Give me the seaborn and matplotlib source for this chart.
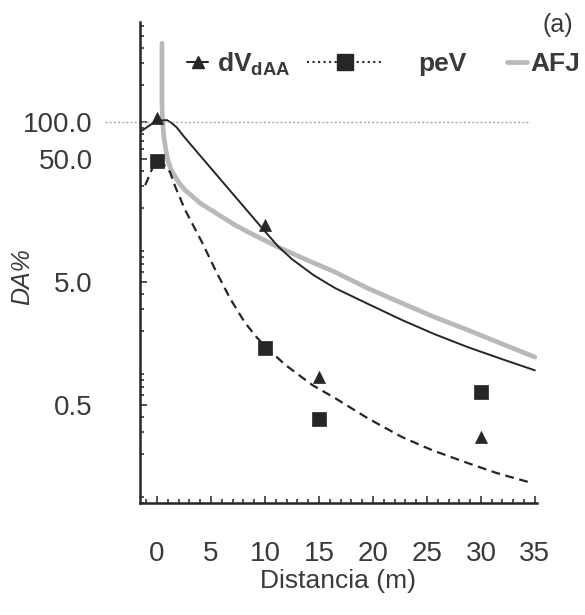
import numpy as np
import matplotlib
matplotlib.use("Agg")
import matplotlib.pyplot as plt
from matplotlib.lines import Line2D
from matplotlib.ticker import FixedLocator, LogLocator, MultipleLocator, NullFormatter, FuncFormatter
import pandas as pd
import seaborn as sns

# puntos medidos
dist_pts = [0, 10, 15, 30]
dv_pts = [108, 14.5, 0.85, 0.275]
pev_pts = [48, 1.45, 0.385, 0.64]

# curva dVdAA (linea continua)
dv_x = [-1.6, -0.4, 0.4, 0.9, 1.3, 1.8, 2.5, 4.0, 5.5, 7.0, 8.5, 10.0, 11.2, 12.5, 14.5, 16.5, 19.5,
        22.7, 25.7, 28.8, 32, 35]
dv_y = [83, 98, 103, 104, 99, 91, 76.1, 53.3, 37.4, 26.2, 18.4, 12.9, 9.8, 7.69, 5.70, 4.47, 3.34,
        2.46, 1.89, 1.48, 1.18, 0.96]

# curva peV (discontinua)
pev_x = [-1.1, -0.4, 0.3, 1.2, 1.7, 2.6, 4.2, 5.5, 6.8, 8.1, 9.2, 10.2, 11.9, 14.4, 16.5, 19.5, 22.7, 25.5, 28.8, 31.5, 34.8]
pev_y = [30.7, 43.0, 49.1, 39.2, 29.6, 19.3, 10.4, 6.03, 3.64, 2.37, 1.79, 1.45, 1.06, 0.727, 0.570,
         0.392, 0.275, 0.215, 0.169, 0.140, 0.116]

# curva AFJ (gris)
afj_x = [0.45, 0.45, 0.5, 0.6, 0.8, 1.0, 1.3, 1.7, 2.1, 2.6, 4.0, 5.6, 7.2, 8.8, 11.2, 13.7, 16.5, 19.5,
         22.7, 25.7, 28.8, 32, 35]
afj_y = [438, 140, 105, 80, 60, 49, 41, 35.7, 31.5, 28.0, 21.9, 17.9, 14.6, 12.3, 9.64, 7.70, 6.03, 4.47,
         3.37, 2.60, 2.04, 1.57, 1.23]

y_ticks = [0.5, 5, 50, 100]

sns.set_style("ticks")
plt.rcParams['font.family'] = ['Liberation Sans', 'DejaVu Sans']
plt.rcParams['mathtext.fontset'] = 'custom'
plt.rcParams['mathtext.rm'] = 'Liberation Sans'
plt.rcParams['mathtext.bf'] = 'Liberation Sans:bold'
plt.rcParams['mathtext.it'] = 'Liberation Sans:italic'

ink = '#262626'
txt = '#3a3a3a'
gris = '#b9b9b9'

fig = plt.figure(figsize=(5.85, 6.15), dpi=100)
ax = fig.add_axes([0.239, 0.182, 0.679, 0.782])

afj = pd.DataFrame({'x': afj_x, 'y': afj_y})
dv = pd.DataFrame({'x': dv_x, 'y': dv_y})
pev = pd.DataFrame({'x': pev_x, 'y': pev_y})

sns.lineplot(data=afj, x='x', y='y', sort=False, estimator=None, color=gris, lw=3.4, ax=ax)
sns.lineplot(data=dv, x='x', y='y', sort=False, estimator=None, color=ink, lw=1.4, ax=ax)
sns.lineplot(data=pev, x='x', y='y', sort=False, estimator=None, color=ink, lw=1.6,
             linestyle=(0, (4, 2.5)), ax=ax)

sns.scatterplot(x=dist_pts, y=dv_pts, marker='^', s=75, color=ink, edgecolor=ink, linewidth=0.5, ax=ax, zorder=5)
sns.scatterplot(x=dist_pts, y=pev_pts, marker='s', s=115, color=ink, edgecolor=ink, linewidth=0.5, ax=ax, zorder=5)

ax.set_yscale('log')
ax.set_xlim(-1.6, 35.2)
ax.set_ylim(0.08, 650)

ax.axhline(100, xmin=-0.088, xmax=0.977, color='#a8a8a8', ls=(0, (1.5, 1.5)), lw=1, clip_on=False)

ax.xaxis.set_major_locator(MultipleLocator(5))
ax.xaxis.set_minor_locator(MultipleLocator(1))
ax.yaxis.set_major_locator(FixedLocator(y_ticks))
ax.yaxis.set_major_formatter(FuncFormatter(lambda v, p: f'{v:.1f}'))
ax.yaxis.set_minor_locator(LogLocator(base=10, subs=np.arange(2, 10), numticks=100))
ax.yaxis.set_minor_formatter(NullFormatter())

ax.tick_params(which='both', direction='in', color=ink, width=1.1, labelcolor=txt, labelsize=20)
ax.tick_params(which='major', length=5)
ax.tick_params(which='minor', length=3)
ax.tick_params(axis='y', which='major', pad=34)
ax.tick_params(axis='x', which='major', pad=27)

for s in ['top', 'right']:
    ax.spines[s].set_visible(False)
for s in ['left', 'bottom']:
    ax.spines[s].set_linewidth(1.8)
    ax.spines[s].set_color(ink)

ax.set_xlabel('Distancia (m)', fontsize=19, color=txt, labelpad=2)
ax.set_ylabel('DA%', fontsize=18, color=txt, style='italic')
ax.yaxis.set_label_coords(-0.265, 0.47)

# leyenda en tres partes
h1 = Line2D([], [], color=ink, lw=1.5, marker='^', ms=9)
h2 = Line2D([], [], color=ink, lw=1.5, ls=':', marker='s', ms=11)
h3 = Line2D([], [], color=gris, lw=3.4)
ly = 1 - 64 / 615
common = dict(frameon=False, borderpad=0, borderaxespad=0, loc='center left',
              bbox_transform=fig.transFigure, numpoints=1,
              prop={'size': 19, 'weight': 'bold'}, labelcolor=txt)
fig.legend(handles=[h1], labels=[r'dV$_{\mathbf{dAA}}$'], bbox_to_anchor=(187 / 585, ly),
           handlelength=0.8, handletextpad=0.35, **common)
fig.legend(handles=[h2], labels=['peV'], bbox_to_anchor=(307 / 585, ly),
           handlelength=2.9, handletextpad=1.3, **common)
fig.legend(handles=[h3], labels=['AFJ'], bbox_to_anchor=(507 / 585, ly),
           handlelength=0.75, handletextpad=0.12, **common)

fig.text(558 / 585, 1 - 25 / 615, '(a)', ha='center', va='center', fontsize=18, color=txt)

fig.savefig('out.png', dpi=100)
